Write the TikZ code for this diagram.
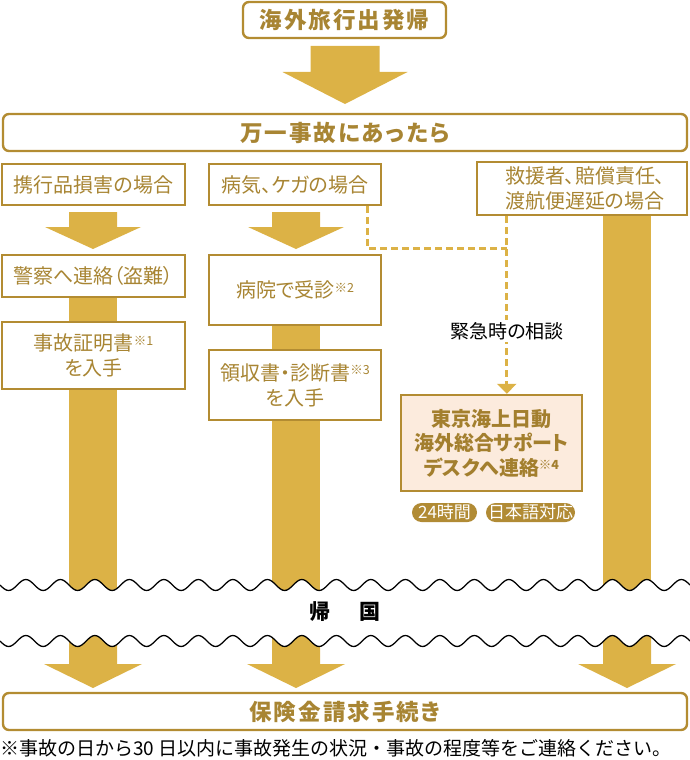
\documentclass[tikz,border=0pt]{standalone}
\usepackage{fontspec}
\setmainfont{Noto Sans CJK JP}[RawFeature=+palt]
\usetikzlibrary{arrows.meta,calc}
\definecolor{bargold}{HTML}{DCB246}
\definecolor{linegold}{HTML}{B38C32}
\definecolor{txtgold}{HTML}{A88533}
\definecolor{deskgold}{HTML}{A37F2E}
\definecolor{peach}{HTML}{FCEBDD}
\definecolor{pillgold}{HTML}{B18B35}
\newcommand\sufnote[1]{\raisebox{5.5pt}{\fontsize{12.5}{12.5}\selectfont ※#1}}
\newcommand\blockarrow[6]{% cx, ytop, yneck, ytip, halfshaft, halfhead
  \fill[bargold] (#1-#5,#2) -- (#1+#5,#2) -- (#1+#5,#3) -- (#1+#6,#3) -- (#1,#4)
    -- (#1-#6,#3) -- (#1-#5,#3) -- cycle;}
\begin{document}
\begin{tikzpicture}[x=1pt,y=-1pt,
  box/.style={draw=linegold, line width=2.4pt, fill=white, inner sep=0pt,
    text=txtgold, align=center, font=\fontsize{20}{25}\selectfont},
  headbox/.style={box, rounded corners=6pt,
    font=\fontsize{22.5}{25}\selectfont\bfseries\addfontfeature{LetterSpace=9}},
  deskbox/.style={box, fill=peach, text=deskgold,
    font=\fontsize{20}{24.5}\selectfont\bfseries},
  pill/.style={fill=pillgold, text=white, rounded corners=9.5pt, inner sep=0pt,
    minimum height=19pt, font=\fontsize{17}{17}\selectfont},
  dashline/.style={draw=bargold, line width=3pt, dash pattern=on 7pt off 4pt},
  wave/.style={draw=black, line width=1.3pt}
]
\useasboundingbox (0,0) rectangle (690,760);

% bars and block arrows
\blockarrow{345}{46}{72}{104}{34.5}{62.5}
\blockarrow{93}{212}{227}{249}{24}{48}
\blockarrow{296}{212}{227}{249}{24}{48}
\fill[bargold] (69,290) rectangle (117,600);
\fill[bargold] (272,320) rectangle (320,600);
\fill[bargold] (603,210) rectangle (651,600);
\blockarrow{93}{625}{664}{688}{24}{49}
\blockarrow{296}{625}{664}{688}{24}{49}
\blockarrow{627}{625}{664}{688}{24}{49}

% white band between the waves
\fill[white] plot[domain=0:690,samples=321] (\x,{585+5.5*sin(\x/34.5*360)})
  -- plot[domain=690:0,samples=321] (\x,{641+5.5*sin(\x/34.5*360)}) -- cycle;
\draw[wave] plot[domain=0:690,samples=321,smooth] (\x,{585+5.5*sin(\x/34.5*360)});
\draw[wave] plot[domain=0:690,samples=321,smooth] (\x,{641+5.5*sin(\x/34.5*360)});
\node[font=\fontsize{21}{21}\selectfont\bfseries, text=black] (home) at (345,612) {帰\hspace{30pt}国};

% boxes
\node[headbox, minimum width=203pt, minimum height=36pt] (start) at (344.5,20) {海外旅行出発帰};
\node[headbox, minimum width=684pt, minimum height=37pt] (acc) at (345,132.5) {万一事故にあったら};
\node[box, minimum width=183pt, minimum height=41pt] (b1) at (93.5,184.5) {携行品損害の場合};
\node[box, minimum width=172pt, minimum height=41pt] (b2) at (295,184.5) {病気、ケガの場合};
\node[box, minimum width=210pt, minimum height=53pt, align=left] (b3) at (582,188.5) {\hspace*{6pt}救援者、賠償責任、\\\hspace*{6pt}渡航便遅延の場合};
\node[box, minimum width=183pt, minimum height=42pt] (c1) at (93.5,276) {警察へ連絡（盗難）};
\node[box, minimum width=183pt, minimum height=67pt] (d1) at (93.5,355.5) {事故証明書\sufnote{1}\\を入手};
\node[box, minimum width=172pt, minimum height=70pt] (c2) at (295,290) {病院で受診\sufnote{2}};
\node[box, minimum width=172pt, minimum height=70pt] (d2) at (295,385) {領収書・診断書\sufnote{3}\\を入手};
\node[deskbox, minimum width=181pt, minimum height=96pt] (desk) at (491.5,443) {東京海上日動\\海外総合サポート\\デスクへ連絡\sufnote{4}};
\node[pill, minimum width=65pt] (p1) at (444.5,512.5) {24時間};
\node[pill, minimum width=89pt] (p2) at (530.5,512.5) {日本語対応};
\node[headbox, minimum width=684pt, minimum height=37pt] (claim) at (345,711.5) {保険金請求手続き};

% dashed emergency connector
\coordinate (dA) at ($(b2.south east)+(-15,0)$);
\coordinate (dB) at ($(b3.south west)+(31,0)$);
\coordinate (dC) at ($(desk.north west)+(107,0)$);
\draw[dashline] (dA) |- (dB |- 0,248);
\draw[dashline, -{Triangle[width=19pt,length=10pt,fill=bargold]}] (dB) -- (dC);
\node[fill=white, text=black, inner sep=2pt, font=\fontsize{19}{19}\selectfont] (sos) at (507,331) {緊急時の相談};

% footnote
\node[anchor=west, inner sep=0pt, font=\fontsize{19}{19}\selectfont\addfontfeature{RawFeature=-palt}] (note) at (0,748) {※事故の日から30 日以内に事故発生の状況・事故の程度等をご連絡ください。};
\end{tikzpicture}
\end{document}
